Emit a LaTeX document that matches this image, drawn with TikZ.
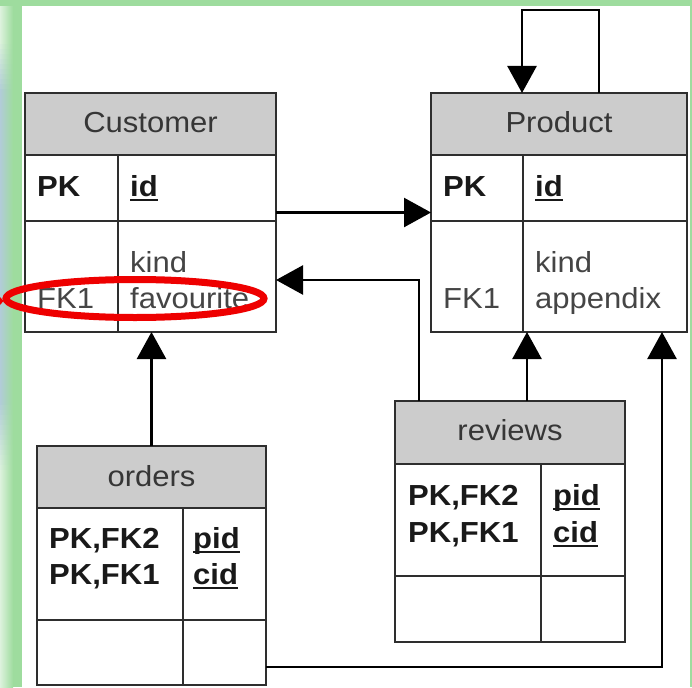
\documentclass[tikz,border=0pt]{standalone}
\usepackage{fontspec}
\setmainfont{Liberation Sans}[FakeStretch=1.07]
\usetikzlibrary{arrows.meta,shapes.geometric}
\definecolor{hdrgray}{HTML}{CCCCCC}
\definecolor{tline}{HTML}{2E2E2E}
\definecolor{hdrtext}{HTML}{363636}
\definecolor{bodytext}{HTML}{454545}
\definecolor{framegreen}{HTML}{9EDC9E}
\definecolor{frameblue}{HTML}{B2CCD8}
\definecolor{framelight}{HTML}{DDF2DD}
\definecolor{ellred}{HTML}{EE0000}
\newcommand\fsz{\fontsize{29}{35}\selectfont}
\newcommand\keyul[1]{\setbox0=\hbox{#1}\rlap{\rule[-4.5pt]{\wd0}{2pt}}\box0}
\tikzset{
  tbl/.style={draw=tline, line width=2pt, inner sep=0pt, outer sep=0pt},
  hdrbox/.style={tbl, fill=hdrgray},
  title/.style={inner sep=0pt, anchor=base, font=\fsz, text=hdrtext},
  fld/.style={inner sep=0pt, anchor=base west, font=\fsz, text=bodytext},
  keyfld/.style={inner sep=0pt, anchor=base west, font=\fsz\bfseries, text=black!90},
  tl/.style={draw=tline, line width=2pt},
  arr/.style={draw=black, line width=2.5pt, line join=miter, -{Triangle[length=27pt,width=29pt]}}
}
\begin{document}
\begin{tikzpicture}[x=1pt,y=-1pt]
\useasboundingbox (0,0) rectangle (692,687);
\fill[white] (0,0) rectangle (692,687);
% frame
\foreach \yy in {0,5,...,685}{
  \pgfmathtruncatemacro\p{max(0,min(100,min((\yy-40)*2,(470-\yy)*1.4286)))}
  \shade[left color=frameblue!\p!framelight, right color=framegreen] (0,\yy) rectangle (13,\yy+5.6);
}
\fill[framegreen] (12.8,0) rectangle (22,687);
\fill[framegreen] (0,0) rectangle (692,6);
\fill[framegreen] (690,0) rectangle (692,687);

% Customer
\node[tbl, minimum width=251pt, minimum height=239pt] (cust) at (150.5,212.5) {};
\node[hdrbox, anchor=north, minimum width=251pt, minimum height=62pt] (custH) at (cust.north) {};
\draw[tl] ([yshift=-128pt]cust.north west) -- ([yshift=-128pt]cust.north east);
\draw[tl] ([xshift=93pt,yshift=-62pt]cust.north west) -- ([xshift=93pt]cust.south west);
\node[title] (custT) at (150.5,132) {Customer};
\node[keyfld] (custPK) at (37,196) {PK};
\node[keyfld] (custId) at (130,196) {\keyul{id}};
\node[fld] (custKind) at (130,272) {kind};
\node[fld] (custFav) at (130,308) {favourite};
\node[fld] (custFK) at (37,308) {FK1};

% Product
\node[tbl, minimum width=256pt, minimum height=239pt] (prod) at (559,212.5) {};
\node[hdrbox, anchor=north, minimum width=256pt, minimum height=62pt] (prodH) at (prod.north) {};
\draw[tl] ([yshift=-128pt]prod.north west) -- ([yshift=-128pt]prod.north east);
\draw[tl] ([xshift=92pt,yshift=-62pt]prod.north west) -- ([xshift=92pt]prod.south west);
\node[title] (prodT) at (559,132) {Product};
\node[keyfld] (prodPK) at (443,196) {PK};
\node[keyfld] (prodId) at (535,196) {\keyul{id}};
\node[fld] (prodKind) at (535,272) {kind};
\node[fld] (prodApp) at (535,308) {appendix};
\node[fld] (prodFK) at (443,308) {FK1};

% orders
\node[tbl, minimum width=229pt, minimum height=239pt] (ord) at (151.5,565.5) {};
\node[hdrbox, anchor=north, minimum width=229pt, minimum height=62pt] (ordH) at (ord.north) {};
\draw[tl] ([yshift=-174pt]ord.north west) -- ([yshift=-174pt]ord.north east);
\draw[tl] ([xshift=146pt,yshift=-62pt]ord.north west) -- ([xshift=146pt]ord.south west);
\node[title] (ordT) at (151.5,486) {orders};
\node[keyfld] (ordK1) at (49,548) {PK,FK2};
\node[keyfld] (ordK2) at (49,584) {PK,FK1};
\node[keyfld] (ordPid) at (193,548) {\keyul{pid}};
\node[keyfld] (ordCid) at (193,584) {\keyul{cid}};

% reviews
\node[tbl, minimum width=230pt, minimum height=241pt] (rev) at (510,521.5) {};
\node[hdrbox, anchor=north, minimum width=230pt, minimum height=63pt] (revH) at (rev.north) {};
\draw[tl] ([yshift=-175pt]rev.north west) -- ([yshift=-175pt]rev.north east);
\draw[tl] ([xshift=146pt,yshift=-63pt]rev.north west) -- ([xshift=146pt]rev.south west);
\node[title] (revT) at (510,440) {reviews};
\node[keyfld] (revK1) at (408,505) {PK,FK2};
\node[keyfld] (revK2) at (408,542) {PK,FK1};
\node[keyfld] (revPid) at (553,505) {\keyul{pid}};
\node[keyfld] (revCid) at (553,542) {\keyul{cid}};

% connectors
\coordinate (loopTop) at (560,10);
\draw[arr] (cust.east) -- (prod.west);
\draw[arr] ([xshift=-91pt]rev.north) |- ([yshift=-67.5pt]cust.east);
\draw[arr] ([xshift=17pt]rev.north) -- ([xshift=17pt]rev.north |- prod.south);
\draw[arr] (ord.north) -- (ord.north |- cust.south);
\draw[arr] ([yshift=-101.5pt]ord.east) -| ([xshift=103pt]prod.south);
\draw[arr] ([xshift=40pt]prod.north) |- (loopTop) -| ([xshift=-37pt]prod.north);

% red highlight
\node[draw=ellred, line width=7pt, ellipse, inner sep=0pt, minimum width=258pt, minimum height=38pt] (hl) at (135,298.5) {};
\fill[ellred] (0,297) -- (3.5,301) -- (0,305) -- cycle;
\end{tikzpicture}
\end{document}
